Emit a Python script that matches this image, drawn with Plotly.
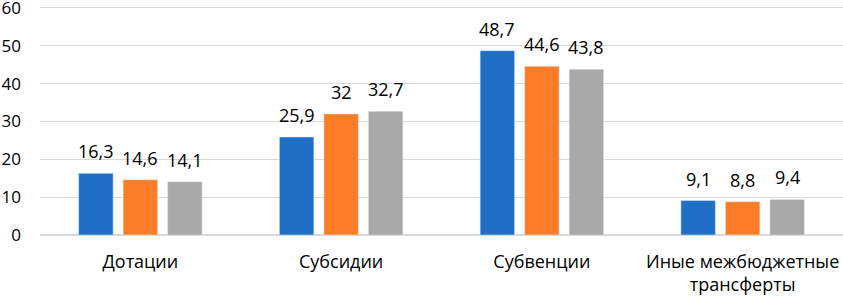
import plotly.graph_objects as go

categories = ["Дотации", "Субсидии", "Субвенции", "Иные межбюджетные<br>трансферты"]
series_1 = [16.3, 25.9, 48.7, 9.1]
series_2 = [14.6, 32.0, 44.6, 8.8]
series_3 = [14.1, 32.7, 43.8, 9.4]
series_names = ["Ряд 1", "Ряд 2", "Ряд 3"]
colors = ["#1f6fc6", "#fb7d28", "#a8a8a8"]

def fmt(v):
    s = ("%.1f" % v).replace(".", ",")
    if s.endswith(",0"):
        s = s[:-2]
    return s

W, H = 843, 297
ML, MR, MT, MB = 40, 0, 6, 62
BARGAP = 0.335

fig = go.Figure()
all_series = [series_1, series_2, series_3]
for name, vals, c in zip(series_names, all_series, colors):
    fig.add_trace(go.Bar(x=categories, y=vals, name=name, marker_color=c))

# value labels above bars (placed with a small pixel gap)
cat_px = (W - ML - MR) / len(categories)
slot_px = cat_px * (1 - BARGAP) / len(all_series)
for i, vals in enumerate(all_series):
    for cat, v in zip(categories, vals):
        fig.add_annotation(x=cat, y=v, text=fmt(v), showarrow=False,
                           xshift=(i - (len(all_series) - 1) / 2) * slot_px,
                           yshift=8, yanchor="bottom",
                           font=dict(size=18, color="#000000"))

fig.update_layout(
    width=W, height=H,
    margin=dict(l=ML, r=MR, t=MT, b=MB),
    plot_bgcolor="white", paper_bgcolor="white",
    barmode="group", bargap=BARGAP, bargroupgap=0.225,
    showlegend=False,
    font=dict(family="Open Sans, Liberation Sans, sans-serif", size=18, color="#000000"),
    separators=", ",
)
fig.update_xaxes(showline=False, ticks="", tickfont=dict(size=18), automargin=False,
                 ticklabelstandoff=14)
fig.update_yaxes(range=[0, 60.5], tickvals=[0, 10, 20, 30, 40, 50, 60], showgrid=True,
                 gridcolor="#d9d9d9", gridwidth=1, zeroline=True, zerolinecolor="#d9d9d9",
                 tickfont=dict(size=17), ticklabelstandoff=18, automargin=False,
                 ticklabeloverflow="allow")

fig.write_html("out.html", config={"displayModeBar": False},
               post_script="document.body.style.margin='0';document.body.style.overflow='hidden';")
